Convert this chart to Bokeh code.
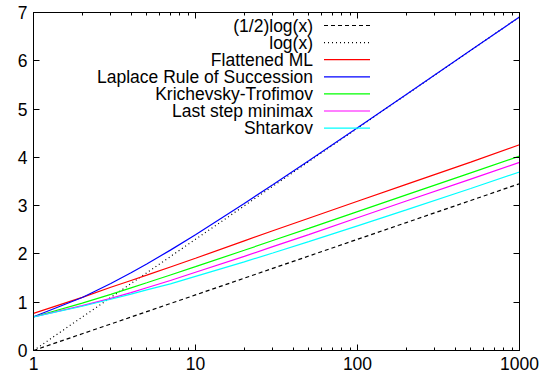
from bokeh.plotting import figure
from bokeh.models import LogAxis, LinearAxis, FixedTicker, PrintfTickFormatter, Range1d
from bokeh.core.properties import value
from bokeh.embed import file_html
from bokeh.resources import INLINE

# ---- data ----
n = [1, 2, 3, 4, 5, 7, 10, 20, 30, 50, 100, 200, 500, 1000]
half_log = [0.0, 0.347, 0.549, 0.693, 0.805, 0.973, 1.151, 1.498, 1.701, 1.956, 2.303, 2.649, 3.107, 3.454]
full_log = [0.0, 0.693, 1.099, 1.386, 1.609, 1.946, 2.303, 2.996, 3.401, 3.912, 4.605, 5.298, 6.215, 6.908]
flattened_ml = [0.77, 1.10, 1.31, 1.45, 1.56, 1.73, 1.91, 2.27, 2.48, 2.74, 3.09, 3.44, 3.90, 4.26]
laplace = [0.70, 1.099, 1.386, 1.609, 1.792, 2.079, 2.398, 3.045, 3.434, 3.932, 4.615, 5.303, 6.217, 6.909]
kt = [0.693, 0.981, 1.163, 1.297, 1.402, 1.563, 1.736, 2.076, 2.277, 2.528, 2.875, 3.222, 3.680, 4.026]
last_step = [0.693, 0.93, 1.08, 1.20, 1.30, 1.45, 1.62, 1.95, 2.15, 2.40, 2.75, 3.095, 3.55, 3.895]
shtarkov = [0.693, 0.916, 1.061, 1.169, 1.256, 1.381, 1.535, 1.836, 2.019, 2.254, 2.580, 2.912, 3.356, 3.697]

series_names = ["(1/2)log(x)", "log(x)", "Flattened ML", "Laplace Rule of Succession",
                "Krichevsky-Trofimov", "Last step minimax", "Shtarkov"]
series_values = [half_log, full_log, flattened_ml, laplace, kt, last_step, shtarkov]
series_colors = ["black", "black", "#ff0000", "#0000ff", "#00ff00", "#ff00ff", "#00ffff"]
series_dash = ["4 3", "1 3", "solid", "solid", "solid", "solid", "solid"]

x_ticks = [1, 10, 100, 1000]
x_minor = [2, 3, 4, 5, 6, 7, 8, 9, 20, 30, 40, 50, 60, 70, 80, 90, 200, 300, 400, 500, 600, 700, 800, 900]
y_ticks = [0, 1, 2, 3, 4, 5, 6, 7]

FONT = "Liberation Sans"
FS = "17.5px"

W, H = 545, 379
BL, BR, BT, BB = 33, 26, 12, 29
FW, FH = W - BL - BR, H - BT - BB

p = figure(width=W, height=H, x_axis_type="log",
           x_range=Range1d(1, 1000), y_range=Range1d(0, 7),
           output_backend="svg", toolbar_location=None,
           min_border_left=BL, min_border_right=BR, min_border_top=BT, min_border_bottom=BB)
p.grid.visible = False
p.outline_line_color = "black"
p.outline_line_width = 1
p.background_fill_color = "white"
p.border_fill_color = "white"

def style_axis(ax, ticks, minor, labels=True):
    ax.ticker = FixedTicker(ticks=ticks, minor_ticks=minor)
    ax.axis_line_color = "black"
    ax.major_tick_in = 6
    ax.major_tick_out = 0
    ax.minor_tick_in = 3
    ax.minor_tick_out = 0
    ax.major_tick_line_color = "black"
    ax.minor_tick_line_color = "black" if minor else None
    ax.formatter = PrintfTickFormatter(format="%d")
    if labels:
        ax.major_label_text_font = FONT
        ax.major_label_text_font_size = FS
        ax.major_label_text_color = "black"
        ax.major_label_standoff = 6
    else:
        ax.major_label_text_font_size = "1px"
        ax.major_label_text_alpha = 0
        ax.major_label_standoff = 0

style_axis(p.xaxis[0], x_ticks, x_minor)
style_axis(p.yaxis[0], y_ticks, [])

top = LogAxis()
style_axis(top, x_ticks, x_minor, labels=False)
p.add_layout(top, "above")
right = LinearAxis()
style_axis(right, y_ticks, [], labels=False)
p.add_layout(right, "right")

for vals, col, dash in zip(series_values, series_colors, series_dash):
    p.line(n, vals, line_color=col, line_width=1.2, line_dash=dash)

# ---- legend (text right-aligned, sample to the right), placed in frame fractions ----
def fx(px):
    return 10 ** (3.0 * px / FW)

def fy(py):
    return 7.0 * (1 - py / FH)

text_right = 279.5
s0, s1 = 290.5, 336.5
row0, dy = 13.0, 17.1
ly = [fy(row0 + dy * i) for i in range(len(series_names))]
p.text(x=[fx(text_right)] * len(series_names), y=ly, text=series_names,
       text_align="right", text_baseline="middle",
       text_font=value(FONT), text_font_size=FS, text_color="black")
for yv, col, dash in zip(ly, series_colors, series_dash):
    p.line([fx(s0), fx(s1)], [yv, yv], line_color=col, line_width=1.2, line_dash=dash)

open("out.html", "w").write(file_html(p, INLINE))
